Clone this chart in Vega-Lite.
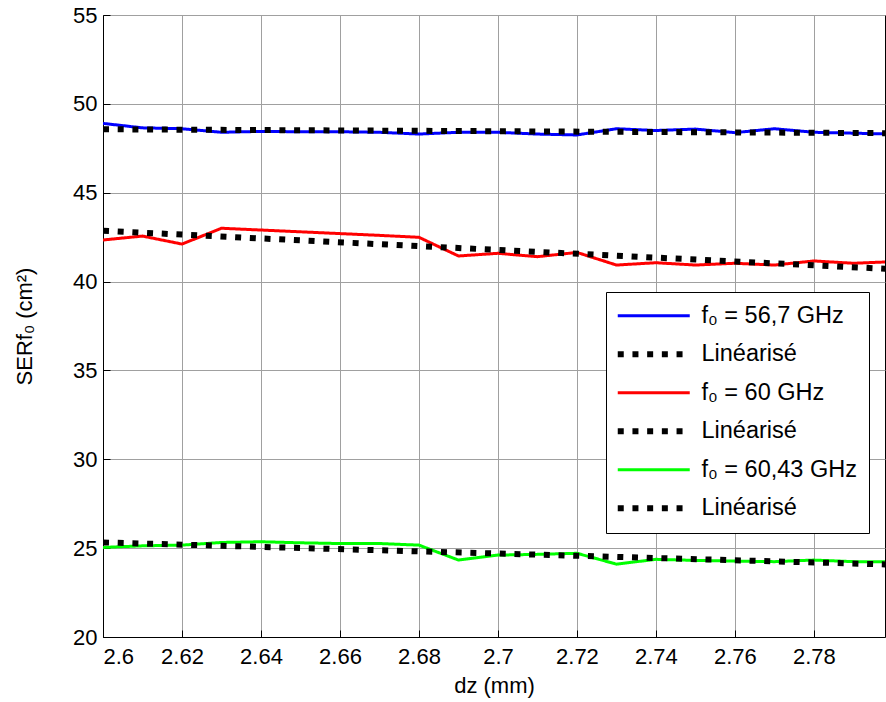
{
  "$schema": "https://vega.github.io/schema/vega-lite/v6.json",
  "width": 782,
  "height": 622,
  "autosize": {"type": "none"},
  "padding": {"left": 103, "top": 15, "right": 1, "bottom": 65},
  "background": "white",
  "config": {
    "font": "Liberation Sans",
    "view": {"stroke": "black", "strokeWidth": 1},
    "axis": {
      "labelFont": "Liberation Sans",
      "labelFontSize": 22,
      "labelColor": "black",
      "titleFont": "Liberation Sans",
      "titleFontSize": 22,
      "titleFontWeight": "normal",
      "titleColor": "black",
      "gridColor": "#a0a0a0",
      "gridOpacity": 1,
      "gridWidth": 1,
      "domainColor": "black",
      "tickColor": "black",
      "tickSize": -7,
      "tickWidth": 1
    },
    "legend": {
      "orient": "none",
      "legendX": 503,
      "legendY": 277,
      "padding": 12,
      "strokeColor": "black",
      "fillColor": "white",
      "labelFont": "Liberation Sans",
      "labelFontSize": 23.5,
      "labelColor": "black",
      "symbolType": "M-3,0H3",
      "symbolSize": 576,
      "symbolOffset": 24,
      "labelOffset": 36,
      "rowPadding": 13.5
    }
  },
  "datasets": {
    "meas": [
      {"dz": 2.6, "ser": 48.9, "series": "f₀ = 56,7 GHz"},
      {"dz": 2.61, "ser": 48.65, "series": "f₀ = 56,7 GHz"},
      {"dz": 2.62, "ser": 48.6, "series": "f₀ = 56,7 GHz"},
      {"dz": 2.63, "ser": 48.4, "series": "f₀ = 56,7 GHz"},
      {"dz": 2.64, "ser": 48.45, "series": "f₀ = 56,7 GHz"},
      {"dz": 2.65, "ser": 48.43, "series": "f₀ = 56,7 GHz"},
      {"dz": 2.66, "ser": 48.43, "series": "f₀ = 56,7 GHz"},
      {"dz": 2.67, "ser": 48.4, "series": "f₀ = 56,7 GHz"},
      {"dz": 2.68, "ser": 48.3, "series": "f₀ = 56,7 GHz"},
      {"dz": 2.69, "ser": 48.4, "series": "f₀ = 56,7 GHz"},
      {"dz": 2.7, "ser": 48.4, "series": "f₀ = 56,7 GHz"},
      {"dz": 2.71, "ser": 48.3, "series": "f₀ = 56,7 GHz"},
      {"dz": 2.72, "ser": 48.25, "series": "f₀ = 56,7 GHz"},
      {"dz": 2.73, "ser": 48.6, "series": "f₀ = 56,7 GHz"},
      {"dz": 2.74, "ser": 48.5, "series": "f₀ = 56,7 GHz"},
      {"dz": 2.75, "ser": 48.58, "series": "f₀ = 56,7 GHz"},
      {"dz": 2.76, "ser": 48.38, "series": "f₀ = 56,7 GHz"},
      {"dz": 2.77, "ser": 48.6, "series": "f₀ = 56,7 GHz"},
      {"dz": 2.78, "ser": 48.4, "series": "f₀ = 56,7 GHz"},
      {"dz": 2.79, "ser": 48.35, "series": "f₀ = 56,7 GHz"},
      {"dz": 2.8, "ser": 48.3, "series": "f₀ = 56,7 GHz"},
      {"dz": 2.6, "ser": 42.34, "series": "f₀ = 60 GHz"},
      {"dz": 2.61, "ser": 42.56, "series": "f₀ = 60 GHz"},
      {"dz": 2.62, "ser": 42.11, "series": "f₀ = 60 GHz"},
      {"dz": 2.63, "ser": 43.0, "series": "f₀ = 60 GHz"},
      {"dz": 2.64, "ser": 42.9, "series": "f₀ = 60 GHz"},
      {"dz": 2.65, "ser": 42.8, "series": "f₀ = 60 GHz"},
      {"dz": 2.66, "ser": 42.7, "series": "f₀ = 60 GHz"},
      {"dz": 2.67, "ser": 42.6, "series": "f₀ = 60 GHz"},
      {"dz": 2.68, "ser": 42.49, "series": "f₀ = 60 GHz"},
      {"dz": 2.69, "ser": 41.44, "series": "f₀ = 60 GHz"},
      {"dz": 2.7, "ser": 41.59, "series": "f₀ = 60 GHz"},
      {"dz": 2.71, "ser": 41.4, "series": "f₀ = 60 GHz"},
      {"dz": 2.72, "ser": 41.64, "series": "f₀ = 60 GHz"},
      {"dz": 2.73, "ser": 40.93, "series": "f₀ = 60 GHz"},
      {"dz": 2.74, "ser": 41.06, "series": "f₀ = 60 GHz"},
      {"dz": 2.75, "ser": 40.93, "series": "f₀ = 60 GHz"},
      {"dz": 2.76, "ser": 41.03, "series": "f₀ = 60 GHz"},
      {"dz": 2.77, "ser": 40.93, "series": "f₀ = 60 GHz"},
      {"dz": 2.78, "ser": 41.16, "series": "f₀ = 60 GHz"},
      {"dz": 2.79, "ser": 41.03, "series": "f₀ = 60 GHz"},
      {"dz": 2.8, "ser": 41.12, "series": "f₀ = 60 GHz"},
      {"dz": 2.6, "ser": 25.04, "series": "f₀ = 60,43 GHz"},
      {"dz": 2.61, "ser": 25.13, "series": "f₀ = 60,43 GHz"},
      {"dz": 2.62, "ser": 25.17, "series": "f₀ = 60,43 GHz"},
      {"dz": 2.63, "ser": 25.32, "series": "f₀ = 60,43 GHz"},
      {"dz": 2.64, "ser": 25.36, "series": "f₀ = 60,43 GHz"},
      {"dz": 2.65, "ser": 25.3, "series": "f₀ = 60,43 GHz"},
      {"dz": 2.66, "ser": 25.26, "series": "f₀ = 60,43 GHz"},
      {"dz": 2.67, "ser": 25.26, "series": "f₀ = 60,43 GHz"},
      {"dz": 2.68, "ser": 25.17, "series": "f₀ = 60,43 GHz"},
      {"dz": 2.69, "ser": 24.33, "series": "f₀ = 60,43 GHz"},
      {"dz": 2.7, "ser": 24.61, "series": "f₀ = 60,43 GHz"},
      {"dz": 2.71, "ser": 24.65, "series": "f₀ = 60,43 GHz"},
      {"dz": 2.72, "ser": 24.71, "series": "f₀ = 60,43 GHz"},
      {"dz": 2.73, "ser": 24.1, "series": "f₀ = 60,43 GHz"},
      {"dz": 2.74, "ser": 24.37, "series": "f₀ = 60,43 GHz"},
      {"dz": 2.75, "ser": 24.31, "series": "f₀ = 60,43 GHz"},
      {"dz": 2.76, "ser": 24.27, "series": "f₀ = 60,43 GHz"},
      {"dz": 2.77, "ser": 24.24, "series": "f₀ = 60,43 GHz"},
      {"dz": 2.78, "ser": 24.33, "series": "f₀ = 60,43 GHz"},
      {"dz": 2.79, "ser": 24.24, "series": "f₀ = 60,43 GHz"},
      {"dz": 2.8, "ser": 24.24, "series": "f₀ = 60,43 GHz"}
    ],
    "lin": [
      {"dz": 2.6, "ser": 48.57, "series": "Lin1"},
      {"dz": 2.8, "ser": 48.35, "series": "Lin1"},
      {"dz": 2.6, "ser": 42.86, "series": "Lin2"},
      {"dz": 2.8, "ser": 40.7, "series": "Lin2"},
      {"dz": 2.6, "ser": 25.32, "series": "Lin3"},
      {"dz": 2.8, "ser": 24.07, "series": "Lin3"}
    ]
  },
  "encoding": {
    "x": {
      "field": "dz",
      "type": "quantitative",
      "title": "dz (mm)",
      "scale": {"domain": [2.6, 2.798], "nice": false, "zero": false},
      "axis": {
        "values": [2.6, 2.62, 2.64, 2.66, 2.68, 2.7, 2.72, 2.74, 2.76, 2.78],
        "format": "~g",
        "labelPadding": 16,
        "titlePadding": 8
      }
    },
    "y": {
      "field": "ser",
      "type": "quantitative",
      "title": "SERf₀ (cm²)",
      "scale": {"domain": [20, 55], "nice": false, "zero": false},
      "axis": {
        "values": [20, 25, 30, 35, 40, 45, 50, 55],
        "labelPadding": 13,
        "titlePadding": 36
      }
    },
    "color": {
      "field": "series",
      "type": "nominal",
      "scale": {
        "domain": ["f₀ = 56,7 GHz", "Lin1", "f₀ = 60 GHz", "Lin2", "f₀ = 60,43 GHz", "Lin3"],
        "range": ["#0000ff", "#000000", "#ff0000", "#000000", "#00ff00", "#000000"]
      },
      "legend": {
        "title": null,
        "labelExpr": "indexof(datum.label, 'Lin') == 0 ? 'Linéarisé' : datum.label",
        "encode": {
          "symbols": {
            "update": {
              "strokeWidth": {"signal": "datum.value == 'Lin1' || datum.value == 'Lin2' || datum.value == 'Lin3' ? 6 : 3"}
            }
          }
        }
      }
    },
    "strokeDash": {
      "field": "series",
      "type": "nominal",
      "scale": {
        "domain": ["f₀ = 56,7 GHz", "Lin1", "f₀ = 60 GHz", "Lin2", "f₀ = 60,43 GHz", "Lin3"],
        "range": [[1, 0], [6, 8.7], [1, 0], [6, 8.7], [1, 0], [6, 8.7]]
      },
      "legend": {
        "title": null,
        "labelExpr": "indexof(datum.label, 'Lin') == 0 ? 'Linéarisé' : datum.label",
        "encode": {
          "symbols": {
            "update": {
              "strokeWidth": {"signal": "datum.value == 'Lin1' || datum.value == 'Lin2' || datum.value == 'Lin3' ? 6 : 3"}
            }
          }
        }
      }
    }
  },
  "layer": [
    {
      "data": {"name": "meas"},
      "mark": {"type": "line", "clip": true, "strokeWidth": 3, "strokeCap": "butt", "strokeJoin": "round"}
    },
    {
      "data": {"name": "lin"},
      "mark": {"type": "line", "clip": true, "strokeWidth": 6, "strokeCap": "butt"}
    }
  ]
}
